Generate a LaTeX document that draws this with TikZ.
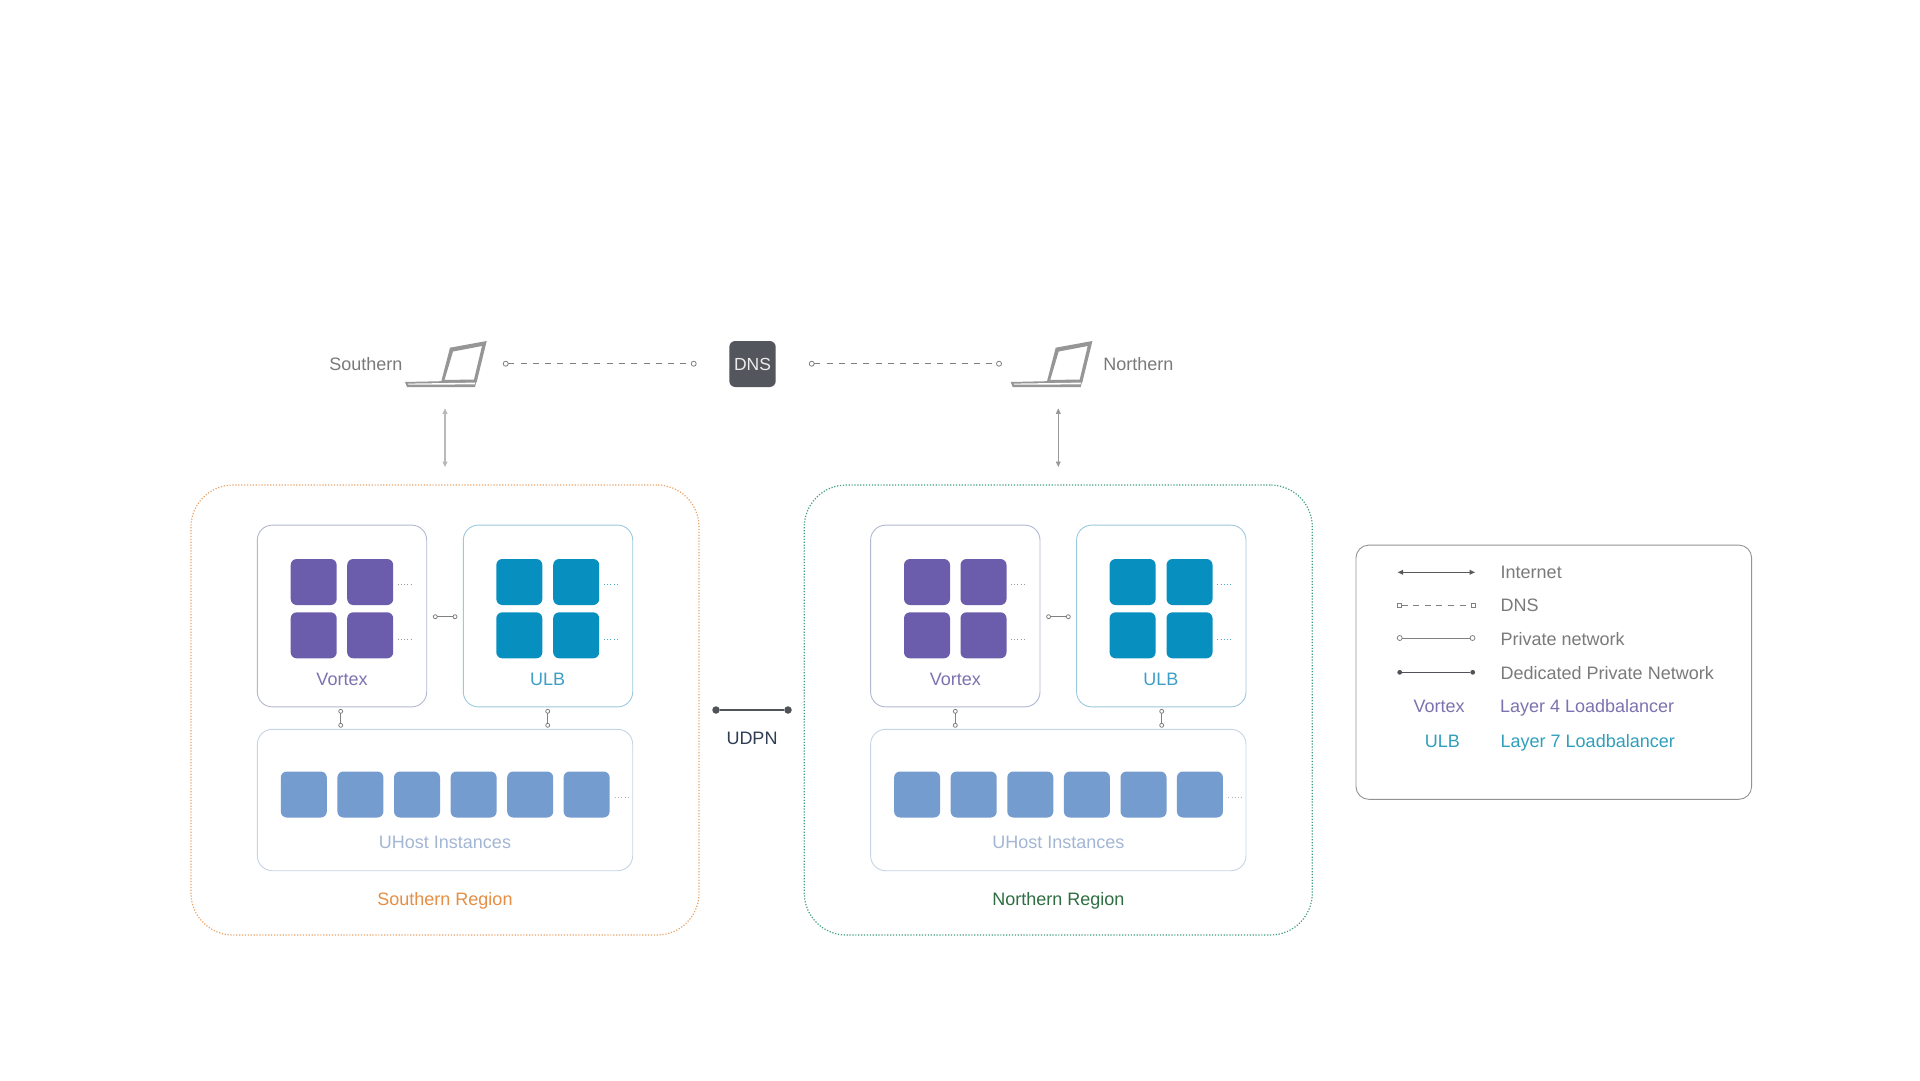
\documentclass[tikz,border=0pt]{standalone}
\usepackage{fontspec}
\setmainfont{Liberation Sans}
\usetikzlibrary{arrows.meta}
\definecolor{cPurple}{HTML}{6B5DAC}
\definecolor{cTeal}{HTML}{0790BF}
\definecolor{cHost}{HTML}{759CCF}
\definecolor{cGrayText}{HTML}{7A7A7A}
\definecolor{cLaptop}{HTML}{969696}
\definecolor{cVxLine}{HTML}{B2B7D2}
\definecolor{cUlLine}{HTML}{9CC9DE}
\definecolor{cHoLine}{HTML}{C6D5E6}
\definecolor{cVxText}{HTML}{7D72B0}
\definecolor{cUlText}{HTML}{3E9FC6}
\definecolor{cHoText}{HTML}{A3B6D4}
\definecolor{cLgUl}{HTML}{2F9FBC}
\definecolor{cSouth}{HTML}{E48F45}
\definecolor{cSouthLn}{HTML}{E8A468}
\definecolor{cNorth}{HTML}{2F6D42}
\definecolor{cNorthLn}{HTML}{3F9D80}
\definecolor{cDns}{HTML}{53565C}
\definecolor{cUdpn}{HTML}{2F3E55}
\definecolor{cDed}{HTML}{50535A}
\tikzset{
  txt/.style={anchor=base,inner sep=0pt,outer sep=0pt,font=\fontsize{18}{20}\selectfont},
  ltxt/.style={txt,anchor=base west,text=cGrayText},
  rbox/.style={rectangle,inner sep=0pt,outer sep=0pt},
  region/.style={rbox,draw,line width=1.2pt,rounded corners=42pt,dash pattern=on 1.2pt off 1.7pt,minimum width=508pt,minimum height=450pt},
  lbbox/.style={rbox,draw,line width=0.9pt,rounded corners=15pt,minimum width=169.4pt,minimum height=181.7pt},
  hostbox/.style={rbox,draw=cHoLine,line width=0.9pt,rounded corners=15pt,minimum width=375.4pt,minimum height=141.4pt},
  sq/.style={rbox,fill=#1,rounded corners=6pt,minimum width=46pt,minimum height=46pt},
  dots/.style={draw=#1,line width=0.7pt,dash pattern=on 1pt off 2.2pt},
  endc/.style={circle,draw=gray,fill=white,line width=0.8pt,inner sep=0pt,outer sep=0pt,minimum size=#1},
  ends/.style={rectangle,draw=gray,fill=white,line width=0.8pt,inner sep=0pt,outer sep=0pt,minimum size=#1},
  endf/.style={circle,fill=cDed,inner sep=0pt,outer sep=0pt,minimum size=#1},
  priv/.style={draw=gray,line width=0.9pt},
  dnsln/.style={draw=gray,line width=1pt,dash pattern=on 6pt off 6.3pt},
  net/.style={draw=#1,{Triangle[fill=#1,length=5.5pt,width=4.8pt]}-{Triangle[fill=#1,length=5.5pt,width=4.8pt]}},
  laptoplines/.style={fill=cLaptop,draw=none}
}
% region contents: #1 prefix, #2 x shift, #3 region colour, #4 label colour, #5 label, #6 #7 vertical link x
\newcommand{\regionparts}[7]{%
\begin{scope}[shift={(#2,0)}]
  \node[region,draw=#3] (#1reg) at (445,710) {};
  \node[lbbox,draw=cVxLine] (#1vx) at (342,616) {};
  \node[lbbox,draw=cUlLine] (#1ulb) at (548,616) {};
  \node[hostbox] (#1host) at (445,800) {};
  \node[sq=cPurple] (#1va) at (313.7,582) {};
  \node[sq=cPurple] (#1vb) at (370.2,582) {};
  \node[sq=cPurple] (#1vc) at (313.7,635.3) {};
  \node[sq=cPurple] (#1vd) at (370.2,635.3) {};
  \node[sq=cTeal] (#1ua) at (519.3,582) {};
  \node[sq=cTeal] (#1ub) at (576.2,582) {};
  \node[sq=cTeal] (#1uc) at (519.3,635.3) {};
  \node[sq=cTeal] (#1ud) at (576.2,635.3) {};
  \foreach \k/\x in {a/303.8,b/360.4,c/417,d/473.6,e/530.2,f/586.6}{
    \node[sq=cHost] (#1h\k) at (\x,794.5) {};
  }
  \coordinate (#1da1) at (397.7,584.3); \coordinate (#1da2) at (411,584.3);
  \coordinate (#1db1) at (397.7,639);   \coordinate (#1db2) at (411,639);
  \coordinate (#1dc1) at (604,584.3);   \coordinate (#1dc2) at (617,584.3);
  \coordinate (#1dd1) at (604,639);     \coordinate (#1dd2) at (617,639);
  \coordinate (#1de1) at (615,797);     \coordinate (#1de2) at (628,797);
  \draw[dots=gray!80] (#1da1) -- (#1da2);
  \draw[dots=gray!80] (#1db1) -- (#1db2);
  \draw[dots=cTeal!75] (#1dc1) -- (#1dc2);
  \draw[dots=cTeal!75] (#1dd1) -- (#1dd2);
  \draw[dots=gray!60] (#1de1) -- (#1de2);
  \node[endc=4pt] (#1p1) at (435.3,616.7) {}; \node[endc=4pt] (#1p2) at (455,616.7) {};
  \node[endc=4pt] (#1p3) at (#6,711.3) {}; \node[endc=4pt] (#1p4) at (#6,725.3) {};
  \node[endc=4pt] (#1p5) at (#7,711.3) {}; \node[endc=4pt] (#1p6) at (#7,725.3) {};
  \draw[priv] (#1p1) -- (#1p2);
  \draw[priv] (#1p3) -- (#1p4);
  \draw[priv] (#1p5) -- (#1p6);
  \node[txt,text=cVxText] (#1vl) at (342,685.2) {Vortex};
  \node[txt,text=cUlText] (#1ul) at (547.6,685.2) {ULB};
  \node[txt,text=cHoText] (#1hl) at (445,848.2) {UHost Instances};
  \node[txt,text=#4] (#1rl) at (445,905) {#5};
\end{scope}}
% laptop: #1 x shift
\newcommand{\laptop}[1]{%
\begin{scope}[shift={(#1,0)}]
  \path[laptoplines,even odd rule]
    (441,382.5) -- (450,347.7) -- (486.7,341) -- (476.7,382) -- cycle
    (444.5,380) -- (453,351.5) -- (482,346) -- (474,379.5) -- cycle;
  \path[laptoplines] (405,382) -- (476.7,380.4) -- (475,387) -- (407,387) -- cycle;
  \path[fill=white] (408,383.6) -- (475.2,382.6) -- (474.8,384.4) -- (408.6,384.7) -- cycle;
\end{scope}}
\begin{document}
\begin{tikzpicture}[x=1pt,y=-1pt]
\useasboundingbox[fill=white] (0,0) rectangle (1920,1080);

\regionparts{s}{0}{cSouthLn}{cSouth}{Southern Region}{340.7}{547.7}
\regionparts{n}{613.3}{cNorthLn}{cNorth}{Northern Region}{342}{548.4}

\laptop{0}
\laptop{605.7}
\node[txt,text=cGrayText] (south) at (365.9,370) {Southern};
\node[txt,text=cGrayText] (north) at (1138.3,370) {Northern};
\node[rbox,rounded corners=6pt,minimum width=46.4pt,minimum height=46pt,fill=cDns] (dns) at (752.5,364) {};
\node[txt,text=white!85!gray,font=\fontsize{17.5}{20}\selectfont] (dnsl) at (752.5,370) {DNS};

\node[endc=5pt] (d1) at (505.7,363.7) {}; \node[endc=5pt] (d2) at (693.7,363.7) {};
\node[endc=5pt] (d3) at (811.7,363.7) {}; \node[endc=5pt] (d4) at (999,363.7) {};
\draw[dnsln] (d1) -- (d2);
\draw[dnsln] (d3) -- (d4);

\coordinate (a1) at (445,408.3); \coordinate (a2) at (445,467);
\coordinate (a3) at (1058.3,408.3); \coordinate (a4) at (1058.3,467);
\draw[net=gray!55,line width=1.3pt] (a1) -- (a2);
\draw[net=gray!80,line width=0.9pt] (a3) -- (a4);

\node[endf=7.5pt] (u1) at (716,710) {}; \node[endf=7.5pt] (u2) at (788,710) {};
\draw[draw=cDed,line width=2pt] (u1) -- (u2);
\node[txt,text=cUdpn] (udpnl) at (752,744.5) {UDPN};

% legend
\node[rbox,draw=gray!85,line width=0.9pt,rounded corners=13pt,minimum width=395.7pt,minimum height=254.3pt] (legend) at (1553.8,672.2) {};
\coordinate (li1) at (1397.7,572.3); \coordinate (li2) at (1475,572.3);
\node[ends=4pt] (ld1) at (1399.5,605.3) {}; \node[ends=4pt] (ld2) at (1473.5,605.3) {};
\node[endc=5pt] (lp1) at (1399.7,638) {}; \node[endc=5pt] (lp2) at (1472.5,638) {};
\node[endf=4.8pt] (lq1) at (1399.7,672.3) {}; \node[endf=4.8pt] (lq2) at (1472.7,672.3) {};
\draw[net=black!65,line width=1pt] (li1) -- (li2);
\draw[draw=gray,line width=1pt,dash pattern=on 6pt off 5.6pt] (ld1) -- (ld2);
\draw[priv] (lp1) -- (lp2);
\draw[draw=cDed,line width=1pt] (lq1) -- (lq2);
\node[ltxt] (t1) at (1500.7,578.6) {Internet};
\node[ltxt] (t2) at (1500.7,611.6) {DNS};
\node[ltxt] (t3) at (1500.7,645.2) {Private network};
\node[ltxt] (t4) at (1500.7,679.6) {Dedicated Private Network};
\node[txt,text=cVxText] (t5a) at (1439,712.6) {Vortex};
\node[ltxt,text=cVxText] (t5) at (1500,712.6) {Layer 4 Loadbalancer};
\node[txt,text=cLgUl] (t6a) at (1442.3,747.6) {ULB};
\node[ltxt,text=cLgUl] (t6) at (1500.7,747.6) {Layer 7 Loadbalancer};
\end{tikzpicture}
\end{document}
